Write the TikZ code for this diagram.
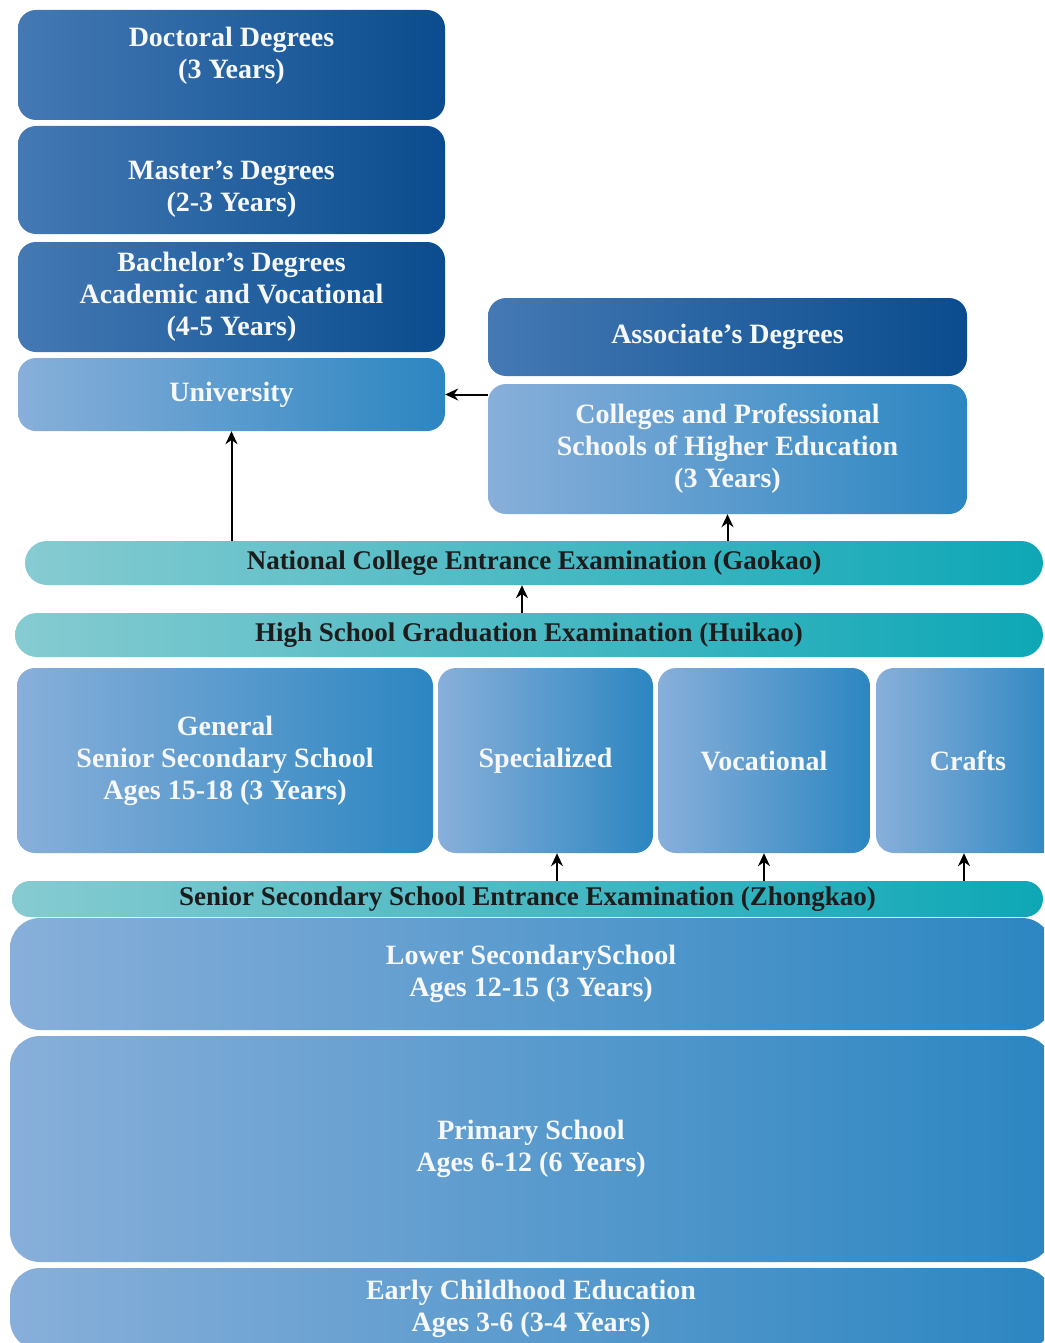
\documentclass[tikz,border=0pt]{standalone}
\usepackage{fontspec}
\setmainfont{Liberation Serif}
\usetikzlibrary{arrows.meta}

\definecolor{darkL}{HTML}{4479B4}
\definecolor{darkR}{HTML}{0A4C8E}
\definecolor{lightL}{HTML}{88AFDA}
\definecolor{lightR}{HTML}{2C86C1}
\definecolor{tealL}{HTML}{86CBD1}
\definecolor{tealR}{HTML}{0EA7B6}
\definecolor{examtext}{HTML}{1C1C1C}
\definecolor{boxtextcol}{HTML}{F6F8FB}

\tikzset{
  boxtext/.style={inner sep=0pt, align=center, text=boxtextcol,
    font=\bfseries\fontsize{28}{32}\selectfont},
  darkbox/.style={boxtext, rounded corners=18pt, left color=darkL, right color=darkR},
  lightbox/.style={boxtext, rounded corners=18pt, left color=lightL, right color=lightR},
  widebox/.style={boxtext, rounded corners=30pt, left color=lightL, right color=lightR},
  exambar/.style={boxtext, left color=tealL, right color=tealR, text=examtext,
    font=\bfseries\fontsize{27}{32}\selectfont},
  arr/.style={-{Stealth[length=13pt,width=12pt]}, line width=2pt, black},
}

\begin{document}
\begin{tikzpicture}[x=1pt, y=-1pt]
  \useasboundingbox (0,0) rectangle (1044,1343);
  \fill[white] (0,0) rectangle (1044,1343);
  \clip (0,0) rectangle (1044,1343);

  % higher education (left column)
  \node[darkbox, minimum width=427pt, minimum height=110pt] (doct) at (231.5,65) {};
  \node[boxtext] (doct-t) at (231.5,56) {Doctoral Degrees\\(3 Years)};
  \node[darkbox, minimum width=427pt, minimum height=108pt] (mast) at (231.5,180) {};
  \node[boxtext] (mast-t) at (231.5,189) {Master's Degrees\\(2-3 Years)};
  \node[darkbox, minimum width=427pt, minimum height=110pt] (bach) at (231.5,297)
    {Bachelor's Degrees\\Academic and Vocational\\(4-5 Years)};
  \node[lightbox, minimum width=427pt, minimum height=73pt] (univ) at (231.5,394.5) {University};

  % higher education (right column)
  \node[darkbox, minimum width=479pt, minimum height=78pt] (assoc) at (727.5,337) {Associate's Degrees};
  \node[lightbox, minimum width=479pt, minimum height=130pt] (coll) at (727.5,449)
    {Colleges and Professional\\Schools of Higher Education\\(3 Years)};

  % examinations
  \node[exambar, rounded corners=22pt, minimum width=1018pt, minimum height=44pt] (gaokao) at (534,563)
    {National College Entrance Examination (Gaokao)};
  \node[exambar, rounded corners=22pt, minimum width=1028pt, minimum height=44pt] (huikao) at (529,635)
    {High School Graduation Examination (Huikao)};

  % senior secondary
  \node[lightbox, minimum width=416pt, minimum height=185pt] (general) at (225,760.5)
    {General\\Senior Secondary School\\Ages 15-18 (3 Years)};
  \node[lightbox, minimum width=215pt, minimum height=185pt] (spec) at (545.5,760.5) {Specialized};
  \node[lightbox, minimum width=212pt, minimum height=185pt] (voc) at (764,760.5) {Vocational};
  \node[lightbox, minimum width=184pt, minimum height=185pt] (crafts) at (968,760.5) {Crafts};

  \node[exambar, rounded corners=18pt, minimum width=1031pt, minimum height=36pt] (zhongkao) at (527.5,899)
    {Senior Secondary School Entrance Examination (Zhongkao)};

  % compulsory and early education
  \node[widebox, minimum width=1042pt, minimum height=112pt] (lower) at (531,974)
    {Lower SecondarySchool\\Ages 12-15 (3 Years)};
  \node[widebox, minimum width=1042pt, minimum height=226pt] (primary) at (531,1149)
    {Primary School\\Ages 6-12 (6 Years)};
  \node[widebox, minimum width=1042pt, minimum height=82pt] (early) at (531,1309)
    {Early Childhood Education\\Ages 3-6 (3-4 Years)};

  % pathways
  \coordinate (xa) at (522,0);
  \coordinate (xs) at (557,0);
  \coordinate (xv) at (764,0);
  \coordinate (xc) at (964,0);
  \draw[arr] (gaokao.north -| univ.south) -- (univ.south);
  \draw[arr] (coll.west |- univ.east) -- (univ.east);
  \draw[arr] (gaokao.north -| coll.south) -- (coll.south);
  \draw[arr] (huikao.north -| xa) -- (gaokao.south -| xa);
  \draw[arr] (zhongkao.north -| xs) -- (spec.south -| xs);
  \draw[arr] (zhongkao.north -| xv) -- (voc.south -| xv);
  \draw[arr] (zhongkao.north -| xc) -- (crafts.south -| xc);
\end{tikzpicture}
\end{document}
